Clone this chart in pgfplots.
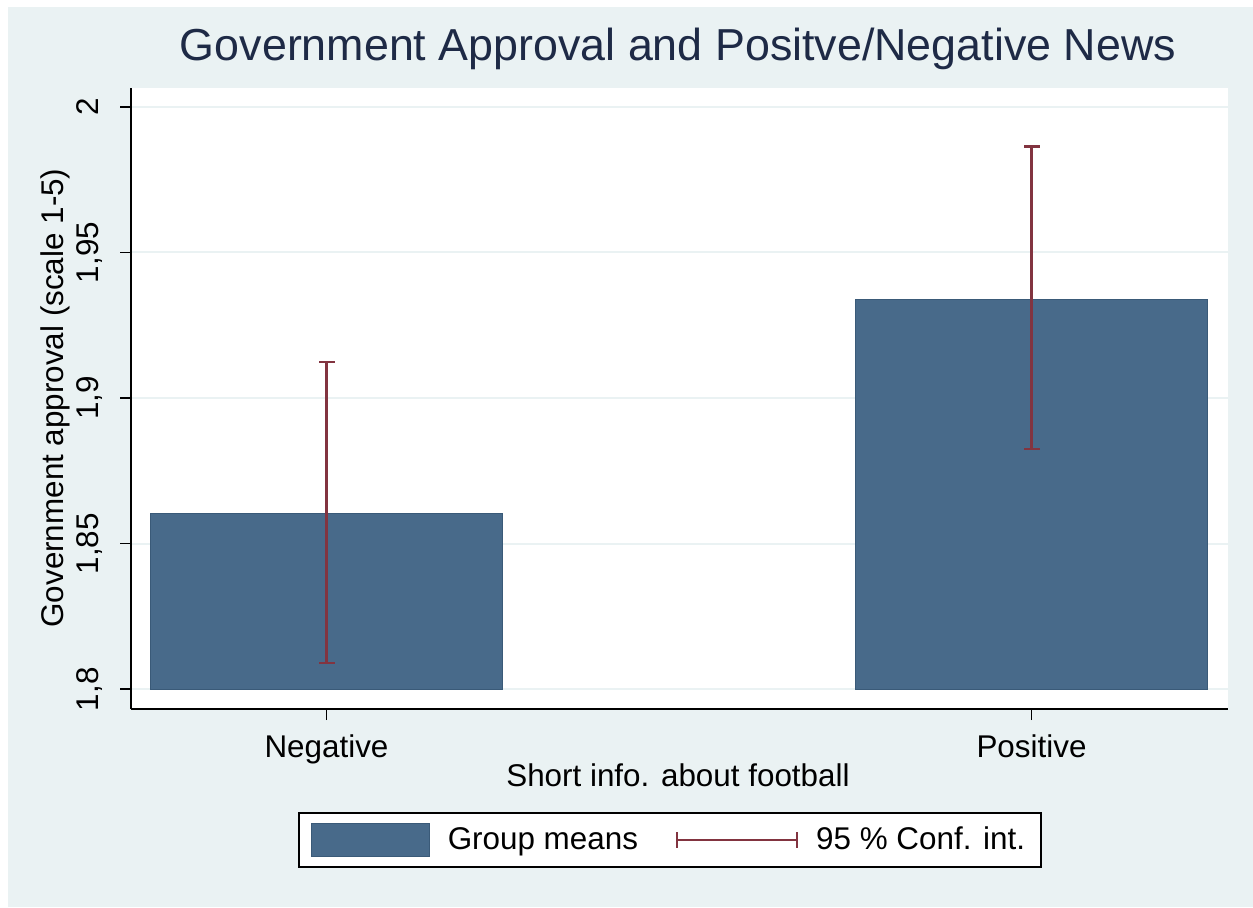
\documentclass[border=0pt]{standalone}
\usepackage{pgfplots}
\pgfplotsset{compat=1.18}
\usepackage{fontspec}
\setmainfont{Liberation Sans}
\definecolor{bg}{RGB}{234,242,243}
\definecolor{barcol}{RGB}{72,106,138}
\definecolor{baredge}{RGB}{58,90,120}
\definecolor{cicol}{RGB}{130,52,64}
\definecolor{titlecol}{RGB}{30,42,70}
\begin{document}
\begin{tikzpicture}
\fill[white] (0pt,0pt) rectangle (626.5pt,453.5pt);
\fill[bg] (4pt,0pt) rectangle (626.5pt,450pt);
\begin{axis}[
  at={(65.5pt,99pt)}, anchor=south west,
  scale only axis, width=548.5pt, height=310.5pt,
  xmin=-0.2773, xmax=1.2787, ymin=1.7932, ymax=2.0065,
  y coord trafo/.code={\pgfmathparse{#1-1.8}},
  y coord inv trafo/.code={\pgfmathparse{#1+1.8}},
  axis x line=bottom, axis y line=left,
  axis line style={-, line width=0.8pt, black},
  axis background/.style={fill=white},
  xtick={0,1}, xticklabels={Negative,Positive},
  ytick={1.8,1.85,1.9,1.95,2},
  yticklabels={{1,8},{1,85},{1,9},{1,95},{2}},
  tick align=outside, major tick length=5.5pt,
  tick style={line width=0.8pt, black},
  ymajorgrids, major grid style={bg, line width=1pt},
  tick label style={font=\fontsize{15.7}{18}\selectfont},
  xticklabel style={anchor=base, yshift=-18.5pt},
  yticklabel style={xshift=-10.5pt, rotate=90, anchor=base},
  title={Government Approval and Positve/Negative News},
  title style={at={(axis description cs:0.4986,1.0242)}, anchor=base,
    font=\fontsize{22.4}{26}\selectfont, text=titlecol},
  xlabel={Short info. about football},
  xlabel style={at={(axis description cs:0.4986,-0.124)}, anchor=base,
    font=\fontsize{15.7}{18}\selectfont},
  ylabel={Government approval (scale 1-5)},
  ylabel style={at={(axis description cs:-0.0611,0.5008)}, anchor=base,
    font=\fontsize{15.7}{18}\selectfont},
  legend columns=2,
  legend style={at={(axis description cs:0.1522,-0.1659)}, anchor=north west,
    draw=black, line width=0.8pt, fill=white,
    font=\fontsize{15.7}{18}\selectfont,
    nodes={inner sep=2pt},
    inner xsep=6pt, inner ysep=5pt,
    column sep=7pt,
    /tikz/every even column/.append style={column sep=17pt}},
]
\addplot[ybar, bar width=0.5, bar shift=0pt, fill=barcol, draw=baredge, line width=0.5pt,
  legend image code/.code={\draw[fill=barcol, draw=baredge, line width=0.5pt] (0pt,-8.25pt) rectangle (59pt,8.25pt);}]
  coordinates {(0,1.8605) (1,1.9339)};
\addlegendentry{Group means}
\addplot[cicol, line width=1.1pt, mark=-, mark size=4pt, mark options={line width=1.1pt},
  legend image code/.code={\draw[cicol, line width=1.1pt] (0pt,0pt) -- (60pt,0pt);
    \draw[cicol, line width=1.1pt] (0pt,-4pt) -- (0pt,4pt) (60pt,-4pt) -- (60pt,4pt);}]
  coordinates {(0,1.8089) (0,1.9125)};
\addlegendentry{95 \% Conf. int.}
\addplot[cicol, line width=1.1pt, mark=-, mark size=4pt, mark options={line width=1.1pt}, forget plot]
  coordinates {(1,1.8825) (1,1.9864)};
\end{axis}
\end{tikzpicture}
\end{document}
